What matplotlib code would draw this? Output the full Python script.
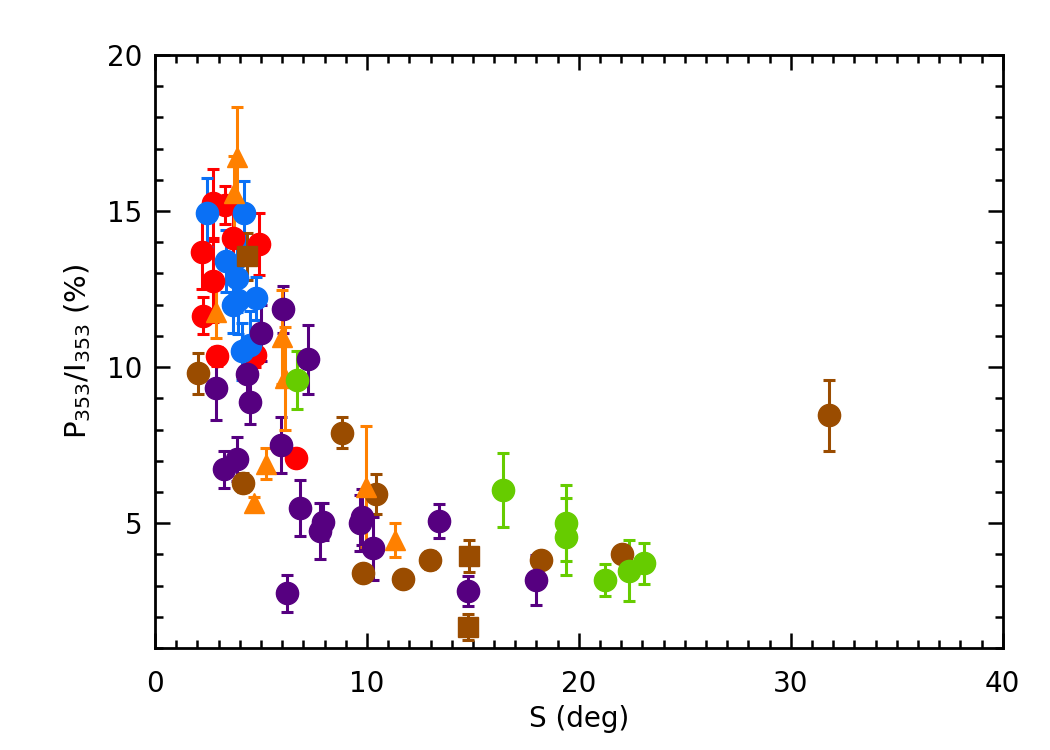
import numpy as np
import matplotlib.pyplot as plt

plt.rcParams['font.family'] = 'DejaVu Sans'
plt.rcParams['mathtext.default'] = 'regular'

# red circles
red_x = [2.22, 2.25, 2.74, 2.74, 2.92, 3.30, 3.68, 4.70, 4.90, 6.65]
red_y = [13.70, 11.65, 12.75, 15.25, 10.35, 15.20, 14.15, 10.40, 13.95, 7.10]
red_e = [1.20, 0.60, 1.30, 1.10, 0.30, 0.60, 0.90, 0.40, 1.00, 0.25]

# blue circles
blue_x = [2.44, 3.35, 3.70, 3.88, 3.92, 4.09, 4.20, 4.48, 4.76]
blue_y = [14.95, 13.40, 12.00, 12.85, 12.15, 10.50, 14.95, 10.70, 12.20]
blue_e = [1.10, 1.00, 0.90, 1.10, 1.10, 0.90, 1.00, 1.10, 0.70]

# brown circles
brc_x = [2.04, 4.14, 8.84, 9.80, 10.42, 11.71, 12.97, 18.19, 22.03, 31.80]
brc_y = [9.80, 6.30, 7.90, 3.39, 5.93, 3.20, 3.82, 3.82, 4.02, 8.45]
brc_e = [0.65, 0.30, 0.50, 0.25, 0.65, 0.25, 0.30, 0.25, 0.25, 1.15]

# brown squares
brs_x = [4.36, 14.80, 14.78]
brs_y = [13.55, 3.95, 1.68]
brs_e = [0.75, 0.50, 0.42]

# purple circles
pur_x = [2.88, 3.27, 3.88, 4.32, 4.48, 4.98, 5.93, 6.02, 6.24, 6.84, 7.20,
         7.78, 7.91, 9.67, 9.75, 10.30, 13.40, 14.78, 17.96]
pur_y = [9.32, 6.72, 7.05, 9.77, 8.89, 11.10, 7.50, 11.85, 2.75, 5.48, 10.25,
         4.75, 5.05, 5.00, 5.20, 4.19, 5.07, 2.83, 3.18]
pur_e = [1.00, 0.60, 0.70, 0.90, 0.70, 0.90, 0.90, 0.75, 0.60, 0.90, 1.10,
         0.90, 0.60, 0.90, 0.90, 1.00, 0.55, 0.47, 0.80]

# orange triangles
ora_x = [2.86, 3.73, 3.85, 4.69, 5.24, 6.00, 6.15, 9.98, 11.32]
ora_y = [11.78, 15.57, 16.74, 5.64, 6.90, 10.97, 9.65, 6.17, 4.46]
ora_e = [0.85, 1.20, 1.60, 0.20, 0.50, 1.50, 1.65, 1.95, 0.55]

# green circles
grn_x = [6.68, 16.40, 19.39, 19.39, 21.23, 22.37, 23.08]
grn_y = [9.60, 6.06, 5.00, 4.57, 3.18, 3.48, 3.71]
grn_e = [0.93, 1.18, 1.22, 1.22, 0.52, 0.99, 0.66]

fig = plt.figure(figsize=(10.5, 7.5), dpi=100)
ax = fig.add_axes([0.1476, 0.136, 0.8074, 0.7907])

series = [
    (red_x, red_y, red_e, 'o', '#ff0000'),
    (blue_x, blue_y, blue_e, 'o', '#0a70f5'),
    (brc_x, brc_y, brc_e, 'o', '#9a4c00'),
    (brs_x, brs_y, brs_e, 's', '#9a4c00'),
    (pur_x, pur_y, pur_e, 'o', '#560080'),
    (ora_x, ora_y, ora_e, '^', '#ff8000'),
    (grn_x, grn_y, grn_e, 'o', '#66cc00'),
]
for x, y, e, m, c in series:
    ms = 16 if m == 'o' else 15
    ax.errorbar(x, y, yerr=e, fmt=m, color=c, ms=ms, mec=c,
                elinewidth=2.2, capsize=4.5, capthick=2.2)

ax.set_xlim(0, 40)
ax.set_ylim(1, 20)
ax.set_xticks([0, 10, 20, 30, 40])
ax.set_yticks([5, 10, 15, 20])
ax.set_xticks(np.arange(0, 41, 1), minor=True)
ax.set_yticks(np.arange(1, 21, 1), minor=True)
ax.tick_params(which='both', direction='in', top=True, right=True, width=1.8,
               labelsize=20)
ax.tick_params(axis='x', which='major', pad=16)
ax.tick_params(axis='y', which='major', pad=9)
ax.tick_params(which='major', length=11)
ax.tick_params(which='minor', length=5.5)
for s in ax.spines.values():
    s.set_linewidth(2)

ax.set_xlabel('S (deg)', fontsize=20, labelpad=5)
ax.set_ylabel(r'P$_{353}$/I$_{353}$ (%)', fontsize=21, labelpad=10)

fig.savefig('out.png', dpi=100)
